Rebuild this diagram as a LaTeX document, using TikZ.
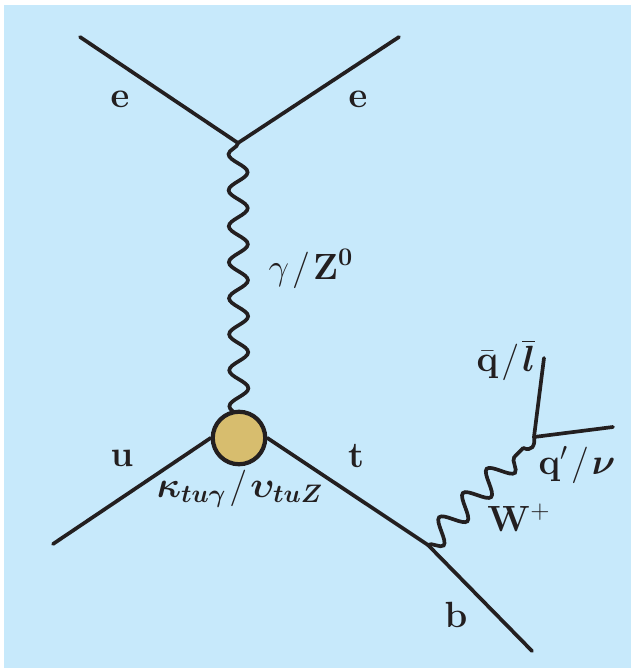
\documentclass[tikz,border=0pt]{standalone}
\usepackage{amsfonts,amsmath,amssymb}
\usepackage{xcolor}
\usepackage{tikz}
\usetikzlibrary{calc,decorations.pathmorphing}
\definecolor{skybg}{HTML}{C7E9FB}
\definecolor{inkline}{HTML}{231F20}
\definecolor{blobfill}{HTML}{D7BD6E}
\newcommand{\slashgap}{\mkern1.5mu/\mkern1.5mu}
\tikzset{
fermion/.style={line width=2.1pt,inkline,line cap=round},
boson/.style={line width=2.1pt,inkline,decorate,decoration={snake,mirror,segment length=#1,amplitude=0.19cm,pre length=0pt,post length=0pt}},
lab/.style={text=inkline,font=\fontsize{20}{22}\selectfont,inner sep=0pt}
}
\begin{document}
\begin{tikzpicture}
\useasboundingbox(0,0) rectangle (12.62,13.36);
\fill[skybg](0.08,0) rectangle (12.62,13.26);
% top vertex
\coordinate (eleft) at (1.6,12.62);
\coordinate (eright) at (7.98,12.62);
\coordinate (etop) at (4.76,10.5);
\coordinate (blobc) at (4.78,4.6);
\draw[fermion](eleft)--(etop);
\draw[fermion](eright)--(etop);
% photon goes under the blob
\draw[boson=0.72cm](etop)--(blobc);
\node[circle,draw=inkline,line width=2.4pt,fill=blobfill,minimum size=1.05cm,inner sep=0pt] (blob) at (blobc) {};
\coordinate (uin) at (1.06,2.48);
\coordinate (tb) at (8.56,2.46);
\coordinate (bout) at (10.64,0.34);
\coordinate (wq) at (10.68,4.62);
\coordinate (qbar) at (10.88,6.2);
\coordinate (qprime) at (12.26,4.82);
\draw[fermion](uin)--(blob.west);
\draw[fermion](blob.east)--(tb);
\draw[fermion](tb)--(bout);
\draw[fermion](wq)--(qbar);
\draw[fermion](wq)--(qprime);
% W line, last half wave by hand
\coordinate (wbend) at ($(tb)!2.72cm!(wq)$);
\draw[boson=0.679cm,decoration={amplitude=0.23cm}](tb)--(wbend);
\draw[fermion](wbend) to[out=-25,in=-80,looseness=1.5] (wq);
% labels
\node[lab] (e1) at (2.4,11.38) {$\mathbf{e}$};
\node[lab] (e2) at (7.16,11.38) {$\mathbf{e}$};
\node[lab] (gz) at (6.22,7.98) {$\gamma\slashgap\mathbf{Z^0}$};
\node[lab] (ulab) at (2.44,4.2) {$\mathbf{u}$};
\node[lab] (tlab) at (7.12,4.24) {$\mathbf{t}$};
\node[lab] (kv) at (4.8,3.58) {$\boldsymbol{\kappa_{tu\gamma}}\slashgap\boldsymbol{\upsilon_{tuZ}}$};
\node[lab] (ql) at (10.12,6.16) {$\bar{\mathbf{q}}\slashgap\overline{\boldsymbol{l}}$};
\node[lab] (qn) at (11.54,4.06) {$\mathbf{q'}\slashgap\boldsymbol{\nu}$};
\node[lab] (wlab) at (10.38,3.0) {$\mathbf{W^+}$};
\node[lab] (blab) at (9.12,1.06) {$\mathbf{b}$};
\end{tikzpicture}
\end{document}
